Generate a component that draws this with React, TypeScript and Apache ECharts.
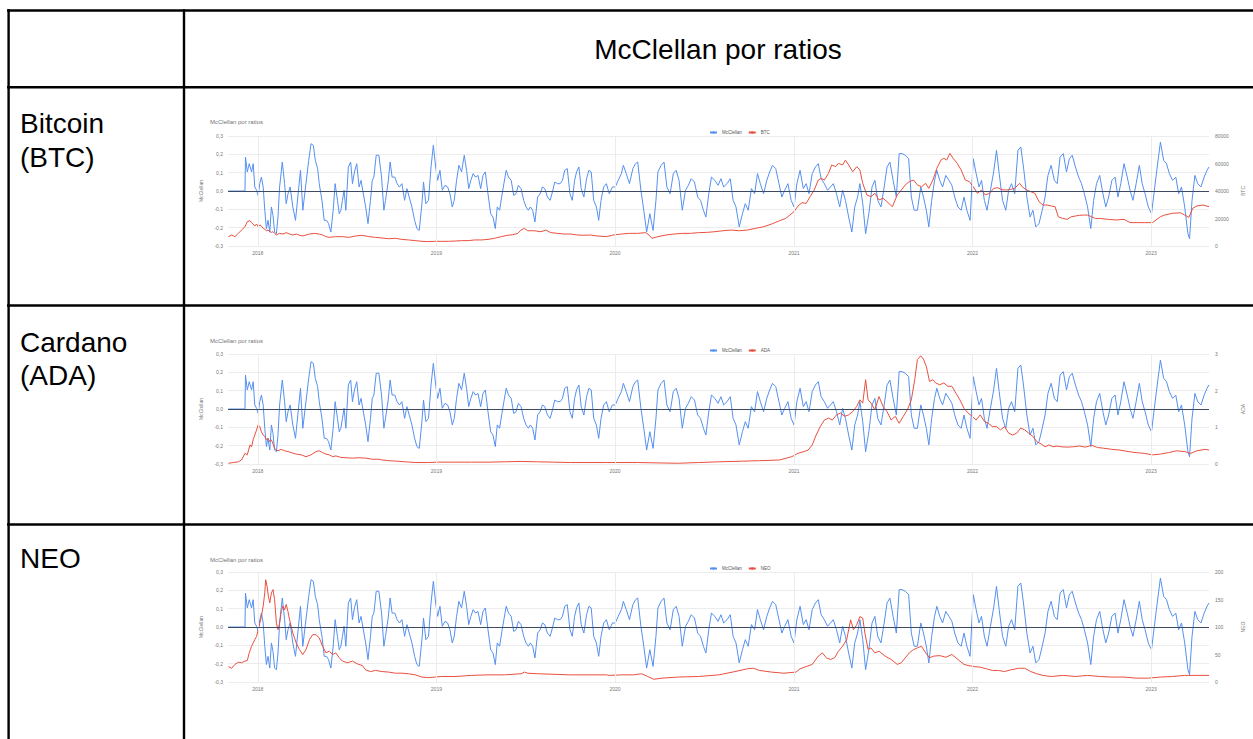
import React, { useEffect, useRef } from 'react';
import * as echarts from 'echarts';

// McClellan oscillator (decimal year, value) — same series in all three panels
const mcclellan: [number, number][] = [
[2017.835,0],[2017.928,0],[2017.931,0.185],[2017.941,0.104],[2017.952,0.149],[2017.965,0.104],[2017.974,0.149],[2017.983,0.022],[2017.993,0.004],[2018.002,-0.024],[2018.011,0.04],[2018.020,0.076],[2018.030,0.022],[2018.039,-0.105],[2018.048,-0.205],[2018.057,-0.16],[2018.067,-0.224],[2018.076,-0.087],[2018.085,-0.133],[2018.094,-0.224],[2018.104,-0.233],[2018.113,-0.142],[2018.122,0.022],[2018.137,0.158],[2018.150,0.04],[2018.159,-0.069],[2018.169,-0.015],[2018.181,0.022],[2018.196,-0.087],[2018.211,-0.16],[2018.224,-0.033],[2018.239,0.113],[2018.252,-0.105],[2018.265,0.004],[2018.274,0.076],[2018.285,0.167],[2018.298,0.258],[2018.311,0.249],[2018.322,0.167],[2018.335,0.122],[2018.344,0.04],[2018.359,-0.051],[2018.372,-0.16],[2018.385,-0.16],[2018.396,-0.178],[2018.409,-0.224],[2018.422,-0.105],[2018.433,0.04],[2018.446,-0.051],[2018.456,-0.124],[2018.465,-0.105],[2018.474,-0.051],[2018.483,0.004],[2018.493,-0.105],[2018.507,0.131],[2018.520,0.158],[2018.530,0.04],[2018.541,0.104],[2018.554,0.149],[2018.567,0.022],[2018.578,0.058],[2018.589,-0.005],[2018.604,-0.087],[2018.617,-0.178],[2018.631,-0.051],[2018.641,0.058],[2018.650,0.076],[2018.663,0.195],[2018.678,0.195],[2018.693,0.076],[2018.706,-0.105],[2018.715,-0.051],[2018.730,0.049],[2018.741,0.158],[2018.752,0.076],[2018.767,0.076],[2018.780,0.04],[2018.793,0.022],[2018.807,0.04],[2018.822,-0.051],[2018.835,0.013],[2018.848,-0.033],[2018.863,-0.087],[2018.878,-0.16],[2018.891,-0.205],[2018.904,-0.215],[2018.919,-0.069],[2018.928,0.049],[2018.941,-0.069],[2018.956,-0.051],[2018.970,0.131],[2018.983,0.249],[2018.996,0.131],[2019.007,0.058],[2019.020,0.113],[2019.033,0.004],[2019.048,0.031],[2019.063,0.022],[2019.076,-0.015],[2019.089,-0.087],[2019.100,-0.051],[2019.113,0.058],[2019.126,0.14],[2019.141,0.104],[2019.156,0.195],[2019.169,0.113],[2019.181,0.013],[2019.193,0.058],[2019.206,0.095],[2019.219,0.076],[2019.233,0.085],[2019.248,0.013],[2019.261,0.085],[2019.274,0.104],[2019.289,-0.015],[2019.304,-0.124],[2019.317,-0.142],[2019.330,-0.205],[2019.341,-0.087],[2019.354,-0.105],[2019.367,-0.024],[2019.378,0.04],[2019.391,0.113],[2019.404,0.076],[2019.419,0.058],[2019.433,-0.024],[2019.446,-0.015],[2019.459,0.031],[2019.474,0.013],[2019.489,-0.051],[2019.502,-0.087],[2019.515,-0.105],[2019.526,-0.087],[2019.539,-0.105],[2019.552,-0.169],[2019.567,-0.033],[2019.581,-0.015],[2019.594,0.022],[2019.607,0.013],[2019.622,-0.033],[2019.637,-0.051],[2019.650,-0.005],[2019.663,0.049],[2019.678,0.04],[2019.693,0.04],[2019.706,0.058],[2019.719,0.113],[2019.733,0.122],[2019.748,-0.015],[2019.761,-0.051],[2019.774,0.058],[2019.785,0.104],[2019.798,0.131],[2019.811,0.013],[2019.826,-0.033],[2019.841,0.067],[2019.854,0.113],[2019.867,0.104],[2019.881,-0.051],[2019.896,-0.087],[2019.909,-0.16],[2019.922,-0.051],[2019.937,0.022],[2019.952,0.04],
[2019.968,-0.015],[2019.986,0.022],[2020.002,0.022],[2020.018,0.058],[2020.036,0.095],[2020.047,0.14],[2020.063,0.095],[2020.081,0.04],[2020.100,0.122],[2020.115,0.149],[2020.127,0.158],[2020.145,0.004],[2020.161,-0.105],[2020.177,-0.224],[2020.195,-0.124],[2020.213,-0.215],[2020.229,-0.051],[2020.240,0.104],[2020.258,0.14],[2020.274,0.158],[2020.290,0.022],[2020.308,-0.015],[2020.326,0.095],[2020.342,0.113],[2020.358,0.058],[2020.376,-0.105],[2020.394,0.004],[2020.410,0.031],[2020.426,0.067],[2020.444,0.049],[2020.462,-0.033],[2020.478,-0.051],[2020.494,-0.105],[2020.508,-0.142],[2020.524,-0.015],[2020.539,0.076],[2020.558,0.058],[2020.576,0.031],[2020.592,0.067],[2020.607,0.022],[2020.626,0.04],[2020.644,0.067],[2020.660,-0.051],[2020.676,-0.087],[2020.694,-0.196],[2020.712,-0.124],[2020.728,-0.069],[2020.744,-0.105],[2020.762,0.013],[2020.780,-0.015],[2020.796,0.095],[2020.812,0.04],[2020.830,-0.015],[2020.848,0.058],[2020.864,0.104],[2020.880,0.14],[2020.898,0.122],[2020.916,0.04],[2020.932,-0.033],[2020.948,0.004],[2020.966,0.04],[2020.984,-0.051],[2021.000,-0.087],[2021.016,0.04],[2021.034,0.113],[2021.052,0.013],[2021.068,0.04],[2021.084,-0.015],[2021.102,0.095],[2021.120,0.131],[2021.136,0.149],[2021.152,0.067],[2021.170,0.04],[2021.188,0.004],[2021.204,0.022],[2021.220,0.04],[2021.238,-0.015],[2021.256,-0.087],[2021.272,0.004],[2021.288,-0.051],[2021.306,-0.142],[2021.324,-0.224],[2021.340,-0.087],[2021.356,-0.033],[2021.369,0.04],[2021.385,-0.069],[2021.401,-0.233],[2021.419,-0.124],[2021.437,0.022],[2021.453,0.058],[2021.469,-0.051],[2021.487,-0.087],[2021.505,0.022],[2021.521,0.131],[2021.537,0.158],[2021.555,0.058],[2021.573,-0.033],[2021.589,0.204],[2021.605,0.204],[2021.623,0.195],[2021.642,0.176],[2021.657,-0.033],[2021.673,-0.105],[2021.691,-0.105],[2021.710,0.022],[2021.725,-0.033],[2021.741,-0.105],[2021.755,-0.196],[2021.771,-0.051],[2021.787,0.058],[2021.800,0.113],[2021.816,0.058],[2021.832,0.022],[2021.850,0.085],[2021.868,0.058],[2021.884,0.031],[2021.900,-0.033],[2021.918,-0.087],[2021.936,-0.105],[2021.952,-0.033],[2021.968,-0.105],[2021.986,-0.16],[2022.004,0.176],[2022.020,0.095],[2022.036,0.022],[2022.050,0.058],[2022.066,-0.051],[2022.081,-0.105],[2022.100,0.004],[2022.118,0.104],[2022.134,0.222],[2022.149,0.095],[2022.168,-0.051],[2022.186,-0.105],[2022.202,0.004],[2022.218,0.04],[2022.236,-0.015],[2022.254,0.222],[2022.270,0.24],[2022.285,0.131],[2022.304,-0.033],[2022.322,-0.142],[2022.338,-0.105],[2022.354,-0.196],[2022.372,-0.178],[2022.390,-0.105],[2022.406,-0.033],[2022.422,0.085],[2022.440,0.14],[2022.458,0.058],[2022.474,0.04],[2022.490,0.185],[2022.508,0.204],[2022.526,0.104],[2022.542,0.176],[2022.558,0.195],[2022.576,0.131],[2022.594,0.076],[2022.610,0.04],[2022.626,-0.015],[2022.644,-0.087],[2022.662,-0.205],[2022.678,-0.051],[2022.694,0.04],[2022.712,0.085],[2022.730,-0.015],[2022.746,-0.087],[2022.762,-0.033],[2022.780,0.058],[2022.798,0.076],[2022.814,-0.033],[2022.830,0.04],[2022.848,0.149],[2022.866,0.076],[2022.882,0.004],[2022.898,-0.051],[2022.916,0.04],[2022.934,0.14],[2022.950,0.04],[2022.966,-0.015],[2022.984,-0.087],[2023.002,-0.124],[2023.018,0.004],[2023.034,0.131],[2023.052,0.267],[2023.070,0.167],[2023.086,0.149],[2023.102,0.095],[2023.120,0.058],[2023.138,0.076],[2023.154,-0.015],[2023.170,0.022],[2023.188,-0.087],[2023.206,-0.233],[2023.215,-0.26],[2023.229,-0.051],[2023.245,0.085],[2023.261,0.04],[2023.279,0.022],[2023.297,0.076],[2023.313,0.113],[2023.324,0.131]
];

// BTC price (decimal year, USD)
const btc: [number, number][] = [
[2017.835,6800],[2017.854,8000],[2017.872,6800],[2017.891,9200],[2017.909,11600],[2017.928,14000],[2017.941,17700],[2017.956,18400],[2017.965,17000],[2017.974,16000],[2017.983,14500],[2017.993,16000],[2018.002,14000],[2018.011,15300],[2018.020,14500],[2018.030,12800],[2018.039,12100],[2018.048,11100],[2018.057,11600],[2018.067,10400],[2018.076,9900],[2018.085,10400],[2018.094,9200],[2018.104,8000],[2018.122,9200],[2018.141,8700],[2018.159,9700],[2018.178,8700],[2018.196,8000],[2018.215,8700],[2018.233,7800],[2018.252,7300],[2018.270,8000],[2018.289,8700],[2018.317,9200],[2018.344,8700],[2018.363,8000],[2018.381,6800],[2018.400,6300],[2018.437,6800],[2018.474,6800],[2018.511,6300],[2018.548,7300],[2018.585,7800],[2018.622,6800],[2018.659,6300],[2018.696,5800],[2018.733,5300],[2018.770,5600],[2018.807,4800],[2018.844,4400],[2018.881,3900],[2018.919,3400],[2018.956,3200],[2018.993,3400],[2019.030,3400],[2019.067,3400],[2019.104,3600],[2019.141,3900],[2019.178,3900],[2019.215,4400],[2019.252,4400],[2019.289,4800],[2019.326,5600],[2019.363,6800],[2019.400,7800],[2019.428,8200],[2019.456,9200],[2019.474,11600],[2019.493,12800],[2019.511,11100],[2019.548,11100],[2019.585,10400],[2019.613,11600],[2019.641,9700],[2019.678,9200],[2019.715,8700],[2019.752,8700],[2019.789,8000],[2019.826,7800],[2019.863,8000],[2019.900,7300],[2019.952,6800],
[2019.991,8000],[2020.036,8700],[2020.081,9200],[2020.127,9200],[2020.172,9700],[2020.190,8000],[2020.206,5600],[2020.240,6800],[2020.285,8000],[2020.331,8700],[2020.376,9200],[2020.422,9200],[2020.467,9700],[2020.512,9900],[2020.558,10400],[2020.603,11100],[2020.648,11600],[2020.694,11100],[2020.739,11600],[2020.784,12800],[2020.830,14000],[2020.875,16000],[2020.920,18400],[2020.954,20100],[2020.977,22500],[2021.000,25000],[2021.022,29000],[2021.045,31500],[2021.068,31000],[2021.090,35900],[2021.113,40700],[2021.136,48000],[2021.152,49200],[2021.170,48000],[2021.193,52800],[2021.211,58900],[2021.233,57700],[2021.249,60100],[2021.272,58900],[2021.288,62500],[2021.306,58900],[2021.329,54000],[2021.351,57700],[2021.369,55300],[2021.385,45600],[2021.408,37100],[2021.431,35900],[2021.453,38300],[2021.476,33500],[2021.499,34700],[2021.521,32200],[2021.551,28600],[2021.578,37100],[2021.601,40700],[2021.623,44400],[2021.646,46800],[2021.669,48000],[2021.691,44400],[2021.714,43100],[2021.737,45600],[2021.755,41900],[2021.778,48000],[2021.800,56500],[2021.823,62500],[2021.839,63800],[2021.855,62500],[2021.873,67400],[2021.891,63800],[2021.914,60100],[2021.936,55300],[2021.959,48000],[2021.982,46800],[2022.004,43100],[2022.027,38300],[2022.050,40700],[2022.072,37100],[2022.095,38300],[2022.118,41900],[2022.140,42400],[2022.163,41000],[2022.190,40700],[2022.213,41200],[2022.236,41900],[2022.263,45600],[2022.281,42700],[2022.304,40700],[2022.326,39500],[2022.349,38300],[2022.372,32200],[2022.394,29800],[2022.417,29800],[2022.440,29100],[2022.462,28600],[2022.480,21300],[2022.503,20100],[2022.530,19400],[2022.553,21300],[2022.576,21800],[2022.598,22300],[2022.621,22500],[2022.644,22500],[2022.666,21300],[2022.689,19900],[2022.712,20100],[2022.757,19400],[2022.802,18900],[2022.848,19400],[2022.882,17000],[2022.916,17000],[2022.961,17000],[2023.007,17000],[2023.052,21300],[2023.075,22500],[2023.120,23800],[2023.165,24200],[2023.188,22500],[2023.211,20800],[2023.233,27400],[2023.256,29100],[2023.290,29800],[2023.324,28600]
];

// ADA price (decimal year, USD)
const ada: [number, number][] = [
[2017.835,0.02],[2017.863,0.04],[2017.891,0.06],[2017.909,0.11],[2017.928,0.29],[2017.941,0.25],[2017.956,0.52],[2017.965,0.47],[2017.974,0.66],[2017.983,0.79],[2017.993,0.93],[2018.002,1.07],[2018.011,1.02],[2018.020,0.88],[2018.030,0.79],[2018.039,0.75],[2018.048,0.66],[2018.057,0.70],[2018.067,0.61],[2018.076,0.66],[2018.085,0.55],[2018.094,0.43],[2018.104,0.38],[2018.113,0.36],[2018.131,0.40],[2018.150,0.36],[2018.169,0.34],[2018.187,0.31],[2018.215,0.27],[2018.243,0.25],[2018.270,0.20],[2018.298,0.25],[2018.326,0.34],[2018.344,0.36],[2018.363,0.31],[2018.381,0.27],[2018.400,0.25],[2018.419,0.20],[2018.437,0.22],[2018.465,0.18],[2018.493,0.17],[2018.530,0.16],[2018.567,0.17],[2018.604,0.16],[2018.641,0.13],[2018.678,0.13],[2018.696,0.11],[2018.733,0.09],[2018.770,0.08],[2018.826,0.06],[2018.881,0.04],[2018.956,0.04],[2019.011,0.05],[2019.104,0.05],[2019.196,0.05],[2019.289,0.05],[2019.381,0.06],[2019.474,0.07],[2019.567,0.06],[2019.659,0.05],[2019.752,0.04],[2019.844,0.04],[2019.952,0.04],
[2020.127,0.04],[2020.354,0.02],[2020.467,0.04],[2020.580,0.06],[2020.807,0.09],[2020.920,0.11],[2020.988,0.20],[2021.022,0.29],[2021.056,0.34],[2021.079,0.38],[2021.102,0.52],[2021.124,0.79],[2021.147,1.02],[2021.170,1.20],[2021.193,1.25],[2021.215,1.20],[2021.238,1.34],[2021.261,1.39],[2021.283,1.30],[2021.306,1.34],[2021.329,1.43],[2021.351,1.57],[2021.369,1.75],[2021.385,1.66],[2021.401,2.30],[2021.415,1.75],[2021.431,1.66],[2021.453,1.48],[2021.476,1.84],[2021.499,1.57],[2021.521,1.43],[2021.544,1.20],[2021.567,1.30],[2021.589,1.11],[2021.612,1.30],[2021.635,1.48],[2021.657,1.75],[2021.676,2.30],[2021.691,2.85],[2021.710,2.95],[2021.725,2.86],[2021.741,2.66],[2021.759,2.25],[2021.778,2.30],[2021.793,2.21],[2021.816,2.16],[2021.839,2.21],[2021.861,2.12],[2021.884,2.12],[2021.907,1.93],[2021.929,1.75],[2021.952,1.52],[2021.975,1.39],[2021.998,1.30],[2022.020,1.20],[2022.043,1.34],[2022.066,1.16],[2022.088,1.11],[2022.111,1.02],[2022.134,1.02],[2022.156,0.93],[2022.179,1.02],[2022.202,0.84],[2022.224,0.79],[2022.247,0.84],[2022.270,0.98],[2022.292,0.93],[2022.315,0.84],[2022.338,0.75],[2022.360,0.61],[2022.383,0.55],[2022.406,0.47],[2022.428,0.52],[2022.451,0.47],[2022.474,0.49],[2022.496,0.47],[2022.530,0.46],[2022.564,0.47],[2022.598,0.49],[2022.632,0.46],[2022.666,0.51],[2022.700,0.45],[2022.734,0.43],[2022.780,0.40],[2022.825,0.38],[2022.871,0.34],[2022.916,0.31],[2022.961,0.29],[2023.007,0.25],[2023.052,0.27],[2023.097,0.31],[2023.143,0.36],[2023.188,0.34],[2023.222,0.29],[2023.256,0.36],[2023.301,0.40],[2023.324,0.38]
];

// NEO price (decimal year, USD)
const neo: [number, number][] = [
[2017.835,28],[2017.854,25],[2017.872,32],[2017.891,36],[2017.909,35],[2017.928,38],[2017.941,39],[2017.952,53],[2017.965,65],[2017.974,71],[2017.983,77],[2017.993,83],[2018.002,95],[2018.011,107],[2018.020,119],[2018.030,138],[2018.039,162],[2018.044,186],[2018.052,174],[2018.059,156],[2018.067,144],[2018.076,162],[2018.085,168],[2018.094,150],[2018.104,107],[2018.113,95],[2018.122,107],[2018.131,128],[2018.141,138],[2018.150,131],[2018.159,141],[2018.169,128],[2018.178,113],[2018.196,89],[2018.215,71],[2018.233,59],[2018.252,50],[2018.270,59],[2018.289,77],[2018.307,86],[2018.326,86],[2018.344,80],[2018.363,65],[2018.381,53],[2018.400,56],[2018.419,50],[2018.437,53],[2018.456,44],[2018.474,38],[2018.502,35],[2018.530,38],[2018.557,33],[2018.585,30],[2018.604,22],[2018.631,19],[2018.659,21],[2018.696,19],[2018.733,18],[2018.770,16],[2018.807,16],[2018.844,15],[2018.881,13],[2018.919,9],[2018.956,8],[2018.993,9],[2019.030,10],[2019.104,10],[2019.196,12],[2019.289,13],[2019.381,13],[2019.474,15],[2019.493,18],[2019.511,16],[2019.567,15],[2019.659,14],[2019.752,13],[2019.844,13],[2019.952,13],
[2019.968,12],[2020.036,13],[2020.104,13],[2020.149,15],[2020.183,10],[2020.217,5],[2020.263,7],[2020.354,9],[2020.467,10],[2020.580,13],[2020.671,19],[2020.739,24],[2020.773,25],[2020.807,21],[2020.875,18],[2020.943,16],[2021.011,18],[2021.034,24],[2021.068,28],[2021.102,32],[2021.136,47],[2021.159,53],[2021.181,44],[2021.204,41],[2021.227,44],[2021.249,56],[2021.272,65],[2021.295,77],[2021.317,113],[2021.333,95],[2021.351,104],[2021.369,119],[2021.385,116],[2021.397,89],[2021.415,59],[2021.431,62],[2021.453,53],[2021.476,56],[2021.510,47],[2021.544,41],[2021.578,32],[2021.601,35],[2021.623,44],[2021.646,53],[2021.669,59],[2021.691,62],[2021.714,65],[2021.737,53],[2021.759,44],[2021.782,47],[2021.816,48],[2021.850,45],[2021.884,50],[2021.907,44],[2021.929,38],[2021.952,32],[2021.975,30],[2022.009,28],[2022.043,27],[2022.077,24],[2022.111,21],[2022.145,21],[2022.179,19],[2022.213,22],[2022.258,25],[2022.292,25],[2022.326,19],[2022.360,15],[2022.394,12],[2022.440,10],[2022.508,12],[2022.576,10],[2022.644,12],[2022.712,10],[2022.780,9],[2022.848,9],[2022.916,7],[2022.984,7],[2023.052,9],[2023.120,10],[2023.188,12],[2023.256,12],[2023.324,12]
];

const yearTicks = [2018, 2019, 2020, 2021, 2022, 2023];
const xRange = [2017.833, 2023.324];
const assetNames = ['BTC', 'ADA', 'NEO'];
const assetSeries = [btc, ada, neo];
const rightMax = [80000, 3, 200];
const rightInterval = [20000, 1, 50];
const rowLabels = [['Bitcoin', '(BTC)'], ['Cardano', '(ADA)'], ['NEO']];
const headerText = 'McClellan por ratios';
const chartTitle = 'McClellan por ratios';
const leftAxisName = 'McClellan';

const toTs = (y: number) => {
  const yr = Math.floor(y);
  const a = Date.UTC(yr, 0, 1);
  const b = Date.UTC(yr + 1, 0, 1);
  return a + (y - yr) * (b - a);
};
const conv = (arr: [number, number][]) => arr.map(([y, v]) => [toTs(y), v]);

export default function App() {
  const ref = useRef<HTMLDivElement>(null);
  useEffect(() => {
    if (!ref.current) return;
    const chart = echarts.init(ref.current, undefined, { renderer: 'svg' });
    const gridTops = [136, 354, 572];
    const titleTops = [114, 333, 552];
    const legendTops = [125, 343, 561];
    const BLUE = '#5590f0';
    const RED = '#e8503f';
    const small = { fontSize: 5, color: '#777', fontFamily: 'Arial, Liberation Sans, sans-serif' };
    const yearTs = yearTicks.map((y) => Date.UTC(y, 0, 1));

    const grid: any[] = [];
    const xAxis: any[] = [];
    const yAxis: any[] = [];
    const series: any[] = [];
    const title: any[] = [];
    const legend: any[] = [];

    gridTops.forEach((top, i) => {
      grid.push({ left: 228, right: 37, top, height: 110, containLabel: false });
      xAxis.push({
        type: 'value', gridIndex: i, min: toTs(xRange[0]), max: toTs(xRange[1]),
        axisLine: { show: false },
        axisTick: { show: false, customValues: yearTs },
        axisLabel: { ...small, margin: 4, customValues: yearTs, formatter: (v: number) => String(new Date(v).getUTCFullYear()) },
        splitLine: { show: false },
      });
      yAxis.push({
        type: 'value', gridIndex: i, min: -0.3, max: 0.3, interval: 0.1,
        axisLine: { show: false }, axisTick: { show: false },
        axisLabel: { ...small, margin: 5, formatter: (v: number) => (Math.abs(v) < 1e-9 ? '0,0' : v.toFixed(1).replace('.', ',')) },
        splitLine: { lineStyle: { color: '#ececec', width: 1 } },
        name: leftAxisName, nameLocation: 'middle', nameGap: 16, nameRotate: 90,
        nameTextStyle: { fontSize: 5, color: '#777' },
      });
      yAxis.push({
        type: 'value', gridIndex: i, position: 'right', min: 0, max: rightMax[i], interval: rightInterval[i],
        axisLine: { show: false }, axisTick: { show: false },
        axisLabel: { ...small, margin: 6, formatter: (v: number) => String(v) },
        splitLine: { show: false },
        name: assetNames[i], nameLocation: 'middle', nameGap: 31, nameRotate: 90,
        nameTextStyle: { fontSize: 5, color: '#777' },
      });
      // vertical year gridlines (empty helper series carrying only markLines)
      series.push({
        type: 'line', xAxisIndex: i, yAxisIndex: 2 * i, data: [], silent: true, z: 1,
        markLine: {
          silent: true, symbol: 'none', label: { show: false },
          lineStyle: { color: '#ececec', width: 1, type: 'solid' },
          data: yearTs.map((t) => ({ xAxis: t })),
        },
      });
      series.push({
        name: 'McClellan', type: 'line', xAxisIndex: i, yAxisIndex: 2 * i,
        data: conv(mcclellan), showSymbol: false, symbol: 'circle', symbolSize: 3,
        lineStyle: { color: BLUE, width: 1 }, itemStyle: { color: BLUE },
        markLine: {
          silent: true, symbol: 'none', label: { show: false },
          lineStyle: { color: '#3c4a66', width: 1, type: 'solid' },
          data: [{ yAxis: 0 }],
        },
        z: 2,
      });
      series.push({
        name: assetNames[i], type: 'line', xAxisIndex: i, yAxisIndex: 2 * i + 1,
        data: conv(assetSeries[i]), showSymbol: false, symbol: 'circle', symbolSize: 3,
        lineStyle: { color: RED, width: 1 }, itemStyle: { color: RED },
        z: 3,
      });
      title.push({
        text: chartTitle, left: 205, top: titleTops[i],
        textStyle: { fontSize: 6, fontWeight: 'normal', color: '#757575', fontFamily: 'Arial, Liberation Sans, sans-serif' },
      });
      legend.push({
        data: ['McClellan', assetNames[i]], left: 704, top: legendTops[i],
        itemWidth: 7, itemHeight: 3, itemGap: 6,
        textStyle: { fontSize: 4.5, color: '#555' },
      });
    });

    const lineStyle = { stroke: '#000', lineWidth: 2.4 };
    const bigFont = 'Arial, "Liberation Sans", sans-serif';
    const graphic: any[] = [
      { type: 'line', shape: { x1: 7, y1: 10.5, x2: 1260, y2: 10.5 }, style: lineStyle },
      { type: 'line', shape: { x1: 7, y1: 87.3, x2: 1260, y2: 87.3 }, style: lineStyle },
      { type: 'line', shape: { x1: 7, y1: 305.5, x2: 1260, y2: 305.5 }, style: lineStyle },
      { type: 'line', shape: { x1: 7, y1: 524.5, x2: 1260, y2: 524.5 }, style: lineStyle },
      { type: 'line', shape: { x1: 8.6, y1: 9.3, x2: 8.6, y2: 745 }, style: lineStyle },
      { type: 'line', shape: { x1: 184, y1: 9.3, x2: 184, y2: 745 }, style: lineStyle },
      { type: 'text', x: 718, y: 49, style: { text: headerText, fontSize: 28, fontFamily: bigFont, fill: '#000', textAlign: 'center', textVerticalAlign: 'middle' } },
    ];
    const rowY = [[123, 157], [342, 375], [558]];
    rowLabels.forEach((lines, i) => {
      lines.forEach((t, j) => {
        graphic.push({ type: 'text', x: 20, y: rowY[i][j], style: { text: t, fontSize: 28, fontFamily: bigFont, fill: '#000', textAlign: 'left', textVerticalAlign: 'middle' } });
      });
    });

    chart.setOption({
      animation: false,
      backgroundColor: '#fff',
      title, legend, grid, xAxis, yAxis, series, graphic,
    });
    return () => chart.dispose();
  }, []);
  return <div ref={ref} style={{ position: 'fixed', left: 0, top: 0, width: 1253, height: 739, background: '#fff' }} />;
}
